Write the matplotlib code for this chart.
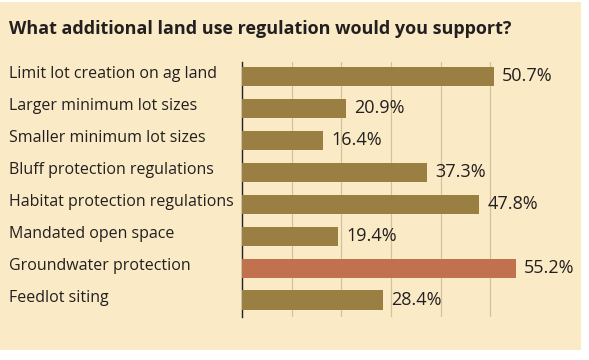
import matplotlib
matplotlib.use("Agg")
import matplotlib.pyplot as plt
import matplotlib.transforms as mtransforms
from matplotlib.patches import Rectangle

categories = [
    "Limit lot creation on ag land",
    "Larger minimum lot sizes",
    "Smaller minimum lot sizes",
    "Bluff protection regulations",
    "Habitat protection regulations",
    "Mandated open space",
    "Groundwater protection",
    "Feedlot siting",
]
values = [50.7, 20.9, 16.4, 37.3, 47.8, 19.4, 55.2, 28.4]
highlight = "Groundwater protection"
title = "What additional land use regulation would you support?"
grid_ticks = [10, 20, 30, 40, 50]

CREAM = "#FAEBC6"
OLIVE = "#9A7F42"
RUST = "#C2714F"
TEXT = "#231F20"
GRID = "#D3C197"

plt.rcParams["font.family"] = ["Open Sans", "DejaVu Sans"]

W, H = 589, 360
fig = plt.figure(figsize=(W / 100, H / 100), dpi=100)
fig.patch.set_facecolor("white")
fig.patches.append(Rectangle((0, 1 - 350 / H), 581 / W, 348 / H,
                             transform=fig.transFigure, facecolor=CREAM,
                             edgecolor="none", zorder=-5))

ax_left, ax_right = 242, 540
ax_top, ax_bot = 61.7, 316.7
ax = fig.add_axes([ax_left / W, 1 - ax_bot / H, (ax_right - ax_left) / W,
                   (ax_bot - ax_top) / H])
ax.set_facecolor("none")
ax.set_zorder(2)

ypos = list(range(len(categories)))
colors = [RUST if c == highlight else OLIVE for c in categories]
ax.barh(ypos, values, height=0.6, color=colors, zorder=3)

ax.set_xlim(0, 60)
ax.set_ylim(7.52, -0.46)
for t in grid_ticks:
    ax.axvline(t, color=GRID, lw=0.9, zorder=1)

for s in ["top", "right", "bottom"]:
    ax.spines[s].set_visible(False)
ax.spines["left"].set_color(TEXT)
ax.spines["left"].set_linewidth(1.0)
ax.set_xticks([])
ax.set_yticks([])

offset = mtransforms.offset_copy(ax.transData, fig=fig, x=8 / 100 * 72, y=0, units="points")
for y, v in zip(ypos, values):
    ax.text(v, y, f"{v}%", transform=offset, ha="left", va="center",
            fontsize=13, color=TEXT)

label_tr = mtransforms.blended_transform_factory(fig.transFigure, ax.transData)
for y, c in zip(ypos, categories):
    ax.text(9 / W, y - 0.07, c, transform=label_tr, ha="left", va="center",
            fontsize=11.5, color=TEXT, clip_on=False)

fig.text(9 / W, 1 - 29 / H, title, ha="left", va="center", fontsize=13,
         fontweight="bold", color=TEXT)

fig.savefig("out.png", dpi=100, facecolor=fig.get_facecolor())
